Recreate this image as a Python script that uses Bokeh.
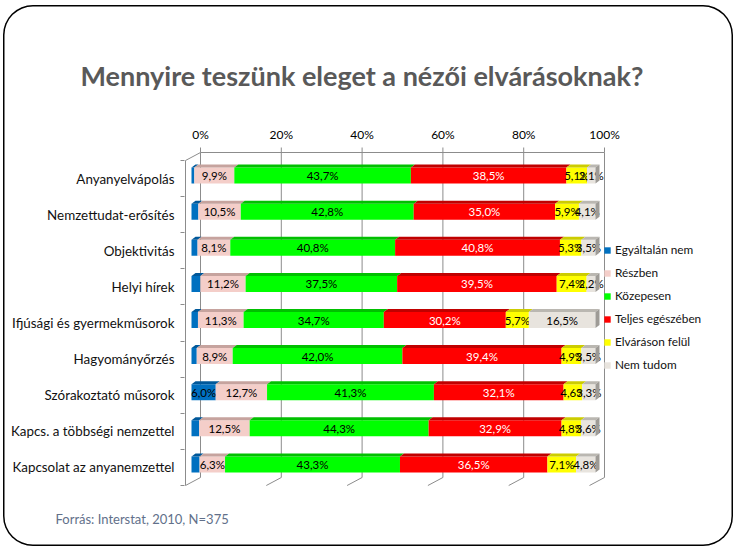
from bokeh.plotting import figure
from bokeh.models import (Range1d, LinearAxis, FixedTicker, Legend, LegendItem,
                          Title, ColumnDataSource)
from bokeh.core.properties import value
from bokeh.embed import file_html
from bokeh.resources import INLINE

# ---------------- data ----------------
title_text = "Mennyire teszünk eleget a nézői elvárásoknak?"
source_text = "Forrás: Interstat, 2010, N=375"
categories = ["Anyanyelvápolás", "Nemzettudat-erősítés", "Objektivitás", "Helyi hírek",
              "Ifjúsági és gyermekműsorok", "Hagyományőrzés", "Szórakoztató műsorok",
              "Kapcs. a többségi nemzettel", "Kapcsolat az anyanemzettel"]
series_names = ["Egyáltalán nem", "Részben", "Közepesen", "Teljes egészében",
                "Elváráson felül", "Nem tudom"]
egyaltalan_nem = [0.7, 1.7, 1.5, 2.2, 1.6, 1.3, 6.0, 1.9, 2.0]
reszben = [9.9, 10.5, 8.1, 11.2, 11.3, 8.9, 12.7, 12.5, 6.3]
kozepesen = [43.7, 42.8, 40.8, 37.5, 34.7, 42.0, 41.3, 44.3, 43.3]
teljes = [38.5, 35.0, 40.8, 39.5, 30.2, 39.4, 32.1, 32.9, 36.5]
felul = [5.1, 5.9, 5.3, 7.4, 5.7, 4.9, 4.6, 4.8, 7.1]
nem_tudom = [2.1, 4.1, 3.5, 2.2, 16.5, 3.5, 3.3, 3.6, 4.8]
x_ticks = [0, 20, 40, 60, 80, 100]
x_tick_labels = ["0%", "20%", "40%", "60%", "80%", "100%"]

series_values = [egyaltalan_nem, reszben, kozepesen, teljes, felul, nem_tudom]
front_colors = ["#0070C0", "#F4CEC9", "#00FF00", "#FF0000", "#FFFF00", "#E8E4DE"]
top_colors = ["#00589A", "#C6A39E", "#00C000", "#C00000", "#CCCC00", "#BAB7B1"]
label_colors = ["black", "black", "black", "white", "black", "black"]
side_color = "#9E9B96"

# ---------------- geometry (pixels, figure coordinates) ----------------
OX, OY = 3, 5                                 # figure placed at page (3, 5)
W, H = 730, 541
FL, FR, FT, FB = 184 - OX, 712 - OX, 146 - OY, 490 - OY   # frame edges
X0, PX = 191 - OX, 4.04                       # bar front plane: 0% pixel, px per %
Y0, PY = 482 - OY, 325 / 9                    # bar front plane: bottom pixel, px per category
n = len(categories)

def dxu(px):
    return px / PX

def dyu(px):          # px downward -> data units
    return -px / PY

x_start, x_end = (FL - X0) / PX, (FR - X0) / PX
y_start, y_end = (Y0 - FB) / PY, (Y0 - FT) / PY

p = figure(width=W, height=H, output_backend="svg", toolbar_location=None,
           x_range=Range1d(x_start, x_end), y_range=Range1d(y_start, y_end),
           x_axis_location=None, y_axis_location=None,
           min_border_left=FL, min_border_right=W - FR,
           min_border_top=FT, min_border_bottom=H - FB,
           title=title_text)
p.grid.visible = False
p.outline_line_color = None
p.background_fill_alpha = 0
p.border_fill_alpha = 0
p.styles = {"margin-left": f"{OX}px", "margin-top": f"{OY}px",
            "border-radius": "30px", "box-shadow": "inset 0 0 0 1.5px #000000"}

# planes (pixel offsets relative to the bar front plane)
BACK = (9, -5)
AXP = (-6, 3)
DEPTH = (4, -3)

p.extra_x_ranges = {"back": Range1d(x_start - dxu(BACK[0]), x_end - dxu(BACK[0]))}
p.extra_y_ranges = {"axisy": Range1d(y_start - dyu(AXP[1]), y_end - dyu(AXP[1]))}

grid_col = "#8C8C8C"
xb = [t + dxu(BACK[0]) for t in x_ticks]
xa = [t + dxu(AXP[0]) for t in x_ticks]
top_b = n + dyu(BACK[1])
bot_b = 0 + dyu(BACK[1])
top_a = n + dyu(AXP[1])
bot_a = 0 + dyu(AXP[1])

# back wall gridlines, top edge & ticks, floor diagonals, left wall edges
p.segment(x0=xb, y0=[bot_b] * len(xb), x1=xb, y1=[top_b] * len(xb), line_color=grid_col, line_width=1)
p.segment(x0=[xb[0]], y0=[top_b], x1=[xb[-1]], y1=[top_b], line_color=grid_col, line_width=1)
p.segment(x0=xb, y0=[top_b] * len(xb), x1=xb, y1=[top_b + dyu(-5)] * len(xb), line_color=grid_col, line_width=1)
p.segment(x0=xb, y0=[bot_b] * len(xb), x1=xa, y1=[bot_a] * len(xb), line_color=grid_col, line_width=1)
p.segment(x0=[xb[0]], y0=[top_b], x1=[xa[0]], y1=[top_a], line_color=grid_col, line_width=1)
p.segment(x0=[xa[0]], y0=[bot_a], x1=[xa[0]], y1=[top_a], line_color=grid_col, line_width=1)

# bars
bar_h = 16 / PY
ddx, ddy = dxu(DEPTH[0]), dyu(DEPTH[1])
ys = [n - 0.5 - i for i in range(n)]
lefts = [0.0] * n
legend_items = []
for k, (name, vals) in enumerate(zip(series_names, series_values)):
    rights = [l + v for l, v in zip(lefts, vals)]
    src = ColumnDataSource(dict(y=ys, left=lefts, right=rights))
    r = p.hbar(y="y", left="left", right="right", height=bar_h, source=src,
               fill_color=front_colors[k], line_color=None)
    legend_items.append(LegendItem(label=name, renderers=[r]))
    txs, tys = [], []
    for l, rr, y in zip(lefts, rights, ys):
        t = y + bar_h / 2
        txs.append([l, rr, rr + ddx, l + ddx])
        tys.append([t, t, t + ddy, t + ddy])
    p.patches(xs=txs, ys=tys, fill_color=top_colors[k], line_color=None)
    lab_x, lab_y, lab_t = [], [], []
    for l, rr, y, v in zip(lefts, rights, ys, vals):
        if k == 0 and v < 3:
            continue
        lab_x.append((l + rr) / 2)
        lab_y.append(y)
        lab_t.append(f"{v:.1f}".replace(".", ",") + "%")
    p.text(x=lab_x, y=lab_y, text=lab_t, text_align="center", text_baseline="middle",
           text_font=value("Lato"), text_font_size="11.5px", text_color=label_colors[k])
    lefts = rights

# right side face of the last segment
sxs, sys_ = [], []
for rr, y in zip(lefts, ys):
    t, b = y + bar_h / 2, y - bar_h / 2
    sxs.append([rr, rr + ddx, rr + ddx, rr])
    sys_.append([t, t + ddy, b + ddy, b])
p.patches(xs=sxs, ys=sys_, fill_color=side_color, line_color=None)

# top axis (percent labels)
top_axis = LinearAxis(x_range_name="back",
                      ticker=FixedTicker(ticks=x_ticks),
                      major_label_overrides=dict(zip(x_ticks, x_tick_labels)),
                      axis_line_color=None, major_tick_line_color=None,
                      minor_tick_line_color=None, major_tick_out=0,
                      major_label_standoff=5,
                      major_label_text_font="Lato", major_label_text_font_size="12px",
                      major_label_text_color="black")
p.add_layout(top_axis, "above")

# left category axis
left_axis = LinearAxis(y_range_name="axisy",
                       ticker=FixedTicker(ticks=ys, minor_ticks=list(range(n + 1))),
                       major_label_overrides=dict(zip(ys, categories)),
                       axis_line_color=None, major_tick_line_color=None,
                       major_tick_out=0, major_tick_in=0,
                       minor_tick_out=4, minor_tick_in=0, minor_tick_line_color=grid_col,
                       major_label_standoff=6,
                       major_label_text_font="Lato", major_label_text_font_size="13.4px",
                       major_label_text_color="#111111")
p.add_layout(left_axis, "left")

legend = Legend(items=legend_items, location=(603 - OX - FL, FB - (372 - OY)),
                padding=0, margin=0,
                border_line_color=None, background_fill_alpha=0,
                glyph_width=8, glyph_height=8, label_standoff=4,
                label_height=12, spacing=8,
                label_text_font="Lato", label_text_font_size="11.8px",
                label_text_color="#111111")
p.add_layout(legend)

# title (above) and source (below)
p.title.align = "left"
p.title.offset = (80 - OX) - FL
p.title.standoff = 63
p.title.text_font = "Lato"
p.title.text_font_style = "bold"
p.title.text_font_size = "27px"
p.title.text_color = "#595959"

src_title = Title(text=source_text, align="left", offset=(55 - OX) - FL, standoff=37,
                  text_font="Lato", text_font_style="normal", text_font_size="13px",
                  text_color="#62708A")
p.add_layout(src_title, "below")

open("out.html", "w").write(file_html(p, INLINE))
